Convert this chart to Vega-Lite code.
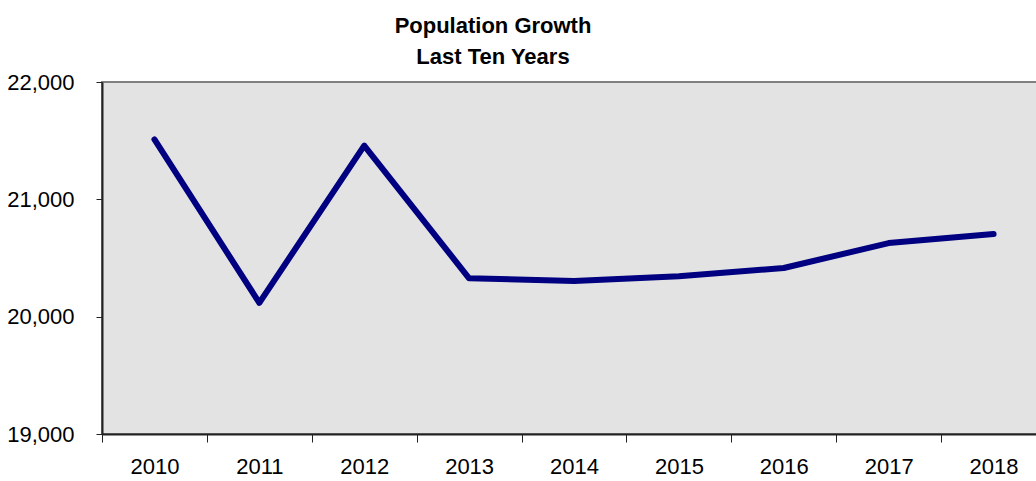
{
  "$schema": "https://vega.github.io/schema/vega-lite/v6.json",
  "width": 944,
  "height": 352,
  "autosize": "none",
  "padding": {"left": 102, "top": 82, "right": 0, "bottom": 47},
  "background": "white",
  "title": {
    "text": ["Population Growth", "Last Ten Years"],
    "font": "Liberation Sans",
    "fontSize": 22,
    "fontWeight": "bold",
    "color": "black",
    "lineHeight": 31,
    "anchor": "middle",
    "dx": -81,
    "offset": 2
  },
  "config": {
    "view": {"fill": "#e3e3e3", "stroke": "#808080", "strokeWidth": 2},
    "axis": {"grid": false, "labelFont": "Liberation Sans", "labelFontSize": 22, "labelColor": "black", "domainColor": "#222", "tickColor": "#222", "title": null}
  },
  "data": {
    "values": [
      {"year": "2010", "pop": 21510},
      {"year": "2011", "pop": 20118},
      {"year": "2012", "pop": 21458},
      {"year": "2013", "pop": 20327},
      {"year": "2014", "pop": 20304},
      {"year": "2015", "pop": 20345},
      {"year": "2016", "pop": 20415},
      {"year": "2017", "pop": 20627},
      {"year": "2018", "pop": 20705}
    ]
  },
  "mark": {"type": "line", "color": "#000080", "strokeWidth": 6, "strokeCap": "round", "strokeJoin": "round"},
  "encoding": {
    "x": {
      "field": "year", "type": "ordinal",
      "scale": {"type": "band", "paddingInner": 0, "paddingOuter": 0},
      "axis": {"labelAngle": 0, "tickBand": "extent", "tickSize": 8, "labelPadding": 14, "domainWidth": 2}
    },
    "y": {
      "field": "pop", "type": "quantitative",
      "scale": {"domain": [19000, 22000], "nice": false, "zero": false},
      "axis": {"values": [19000, 20000, 21000, 22000], "format": ",.0f", "tickSize": 6, "labelPadding": 22, "domainWidth": 2}
    }
  }
}
